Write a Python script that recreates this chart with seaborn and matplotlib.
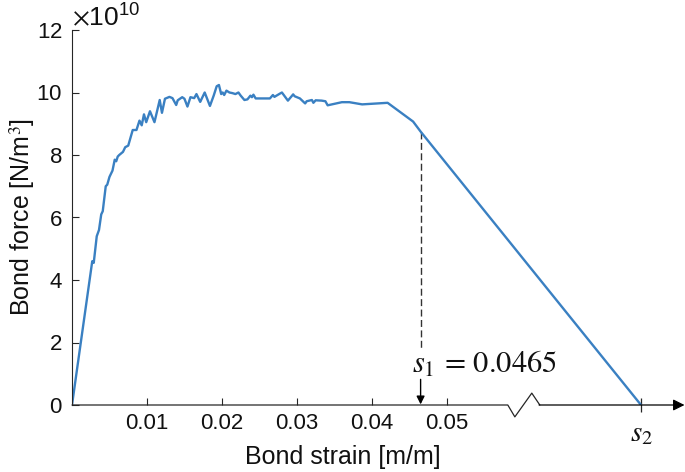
import matplotlib
matplotlib.use("Agg")
import matplotlib.pyplot as plt
import seaborn as sns
import numpy as np
import pandas as pd

# ---- data (strain in m/m, force in units of 1e10 N/m^3) ----
strain = [0.0, 0.0027, 0.0029, 0.0033, 0.0036, 0.0039, 0.0041, 0.0045, 0.0047,
          0.0050, 0.0054, 0.0057, 0.0059, 0.0061, 0.0063, 0.0068, 0.0071, 0.0075,
          0.0081, 0.0086, 0.0090, 0.0093, 0.0096, 0.0099, 0.0104, 0.0110, 0.0117,
          0.0120, 0.0124, 0.0130, 0.0134, 0.0139, 0.0141, 0.0147, 0.0150, 0.0154,
          0.0158, 0.0163, 0.0166, 0.0171, 0.0172, 0.0177, 0.0184, 0.0189, 0.0193,
          0.0196, 0.0199, 0.0201, 0.0203, 0.0206, 0.0210, 0.0214, 0.0218, 0.0222,
          0.0225, 0.0230, 0.0234, 0.0238, 0.0240, 0.0242, 0.0245, 0.0255, 0.0264,
          0.0268, 0.0270, 0.0277, 0.0280, 0.0288, 0.0295, 0.0297, 0.0304, 0.0311,
          0.0313, 0.0320, 0.0322, 0.0325, 0.0333, 0.0338, 0.0341, 0.0360, 0.0370,
          0.0387, 0.0421, 0.0455, 0.0465, 0.0759]
force = [0.0, 4.6, 4.55, 5.4, 5.6, 6.1, 6.2, 7.0, 7.05,
         7.3, 7.5, 7.85, 7.8, 7.95, 8.0, 8.1, 8.25, 8.3,
         8.8, 8.8, 9.1, 8.95, 9.3, 9.05, 9.4, 9.05, 9.76,
         9.35, 9.8, 9.86, 9.82, 9.6, 9.75, 9.85, 9.8, 9.55,
         9.85, 9.82, 9.95, 9.7, 9.75, 10.0, 9.57, 9.9, 10.2,
         10.24, 9.95, 10.0, 9.92, 10.06, 10.0, 9.98, 9.95, 10.0,
         9.9, 9.76, 9.78, 9.9, 9.85, 9.93, 9.81, 9.81, 9.81,
         9.92, 9.86, 9.96, 10.0, 9.74, 9.94, 9.88, 9.81, 9.65,
         9.72, 9.76, 9.67, 9.75, 9.74, 9.72, 9.59, 9.69, 9.69,
         9.62, 9.67, 9.07, 8.75, 0.0]
scale = 1e10
s1 = 0.0465
s1_force = 8.75
s2_pos = 0.0759
xtick_vals = [0.01, 0.02, 0.03, 0.04, 0.05]
xtick_labels = ["0.01", "0.02", "0.03", "0.04", "0.05"]
ytick_vals = [0, 2, 4, 6, 8, 10, 12]

df = pd.DataFrame({"strain": strain, "force": np.array(force) * scale})

sns.set_theme(style="white")
plt.rcParams["font.family"] = ["Liberation Sans", "DejaVu Sans"]
plt.rcParams["mathtext.fontset"] = "stix"

fig = plt.figure(figsize=(6.85, 4.72), dpi=100)
ax = fig.add_axes([72/685, 1-405/472, 611/685, 375/472])

line_color = "#3a80c2"
axis_color = "#262626"
sns.lineplot(data=df, x="strain", y="force", sort=False, estimator=None,
             ax=ax, color=line_color, lw=1.7)

ax.set_xlim(0, 0.0815)
ax.set_ylim(0, 12 * scale)
ax.set_yticks([v * scale for v in ytick_vals])
ax.ticklabel_format(axis="y", style="sci", scilimits=(10, 10), useMathText=True)
ax.yaxis.get_offset_text().set_fontsize(19)
ax.yaxis.get_offset_text().set_color("#111111")

ax.set_xticks(xtick_vals)
ax.set_xticklabels(xtick_labels)
ax.set_xticks([s2_pos], minor=True)
ax.set_xticklabels([r"$s_2$"], minor=True, fontsize=21)

ax.tick_params(axis="both", which="major", direction="in", length=5, width=0.8,
               color=axis_color, labelsize=16, labelcolor="#111111",
               bottom=True, left=True)
ax.tick_params(axis="y", pad=7)
ax.tick_params(axis="x", which="major", pad=6)
ax.tick_params(axis="x", which="minor", direction="inout", length=10, width=0.9,
               color=axis_color, pad=5, labelcolor="#111111", bottom=True)

for sp in ["top", "right", "bottom"]:
    ax.spines[sp].set_visible(False)
ax.spines["left"].set_color(axis_color)
ax.spines["left"].set_linewidth(0.8)

# broken x axis with arrow
zx1, zx2, zx3, zx4 = 0.05813, 0.05907, 0.06133, 0.0624
ax.plot([0, zx1, zx2, zx3, zx4], [0, 0, -0.38 * scale, 0.38 * scale, 0],
        color=axis_color, lw=0.9, clip_on=False, zorder=3)
ax.annotate("", xy=(0.0817, 0), xytext=(zx4 - 0.0001, 0),
            arrowprops=dict(arrowstyle="-|>", mutation_scale=17, lw=0.9,
                            color="black", shrinkA=0, shrinkB=0),
            annotation_clip=False, zorder=3)

# s1 marker
ax.plot([s1, s1], [s1_force * scale, 1.78 * scale], color="#333333", lw=1.0,
        linestyle=(0, (5, 2.5)), zorder=1)
ax.annotate("", xy=(s1, 0.02 * scale), xytext=(s1, 0.82 * scale),
            arrowprops=dict(arrowstyle="-|>", mutation_scale=12, lw=1.0,
                            color="black", shrinkA=0, shrinkB=0))
ax.text(0.0454, 1.28 * scale, r"$s_1\,=\,0.0465$", fontsize=22, ha="left",
        va="center", color="#111111")

ax.set_xlabel("Bond strain [m/m]", fontsize=18, color="#111111")
ax.set_ylabel(r"Bond force [N/m$^3$]", fontsize=18, color="#111111")
ax.xaxis.set_label_coords((343 - 72) / 611, (405 - 457) / 375)
ax.xaxis.label.set_va("center")
ax.yaxis.set_label_coords((22 - 72) / 611, 0.5)
ax.yaxis.label.set_va("center")

fig.savefig("out.png", dpi=100)
